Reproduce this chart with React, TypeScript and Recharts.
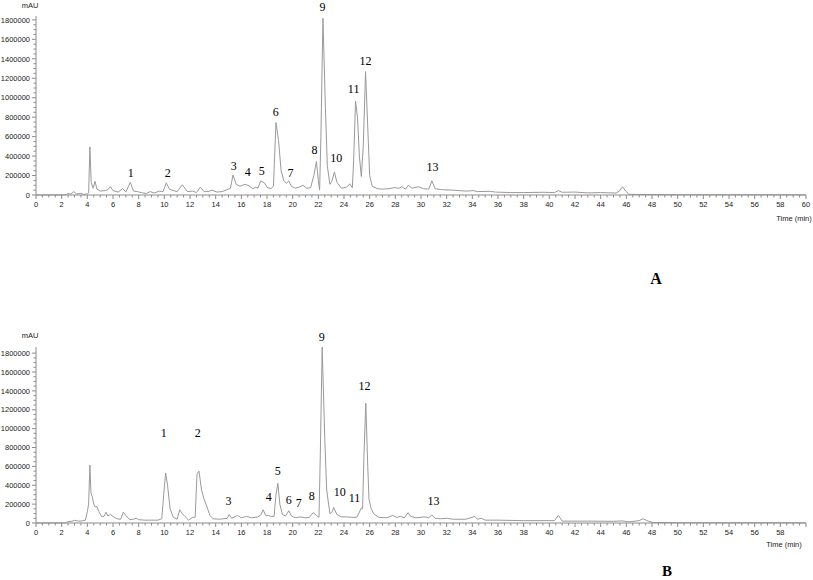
import React from "react";
import { LineChart, Line, XAxis, YAxis, ReferenceDot } from "recharts";

// chromatogram A (time in min, signal in mAU)
const timeA = [
  0, 2.3, 2.5, 2.7, 2.95, 3.15, 3.5, 3.7, 4.0, 4.1, 4.2, 4.3, 4.45, 4.6, 4.75,
  5.0, 5.4, 5.6, 5.8, 6.0, 6.4, 6.75, 7.0, 7.35, 7.6, 7.9, 8.2, 8.6, 8.9, 9.2,
  9.6, 9.9, 10.15, 10.4, 10.7, 11.0, 11.4, 11.8, 12.2, 12.5, 12.8, 13.1, 13.4,
  13.7, 14.1, 14.5, 14.9, 15.15, 15.35, 15.6, 15.9, 16.3, 16.6, 16.9, 17.1,
  17.3, 17.5, 17.8, 18.0, 18.3, 18.5, 18.7, 18.9, 19.1, 19.3, 19.5, 19.7, 19.9,
  20.2, 20.5, 20.8, 21.1, 21.4, 21.65, 21.85, 22.0, 22.1, 22.2, 22.36, 22.55,
  22.7, 22.9, 23.05, 23.25, 23.45, 23.8, 24.2, 24.45, 24.65, 24.75, 24.9,
  25.05, 25.2, 25.35, 25.5, 25.68, 25.85, 26.0, 26.2, 26.6, 27.0, 27.5, 27.9,
  28.3, 28.5, 28.8, 29.0, 29.3, 29.8, 30.2, 30.6, 30.85, 31.1, 31.6, 32.5,
  33.5, 34.1, 34.4, 35.4, 35.8, 37, 38, 39.5, 40.4, 40.7, 41.0, 42.0, 43, 44,
  45.2, 45.45, 45.7, 45.95, 46.2, 47, 50, 60,
];
const signalA = [
  0, 2000, 15000, 8000, 35000, 10000, 18000, 6000, 12000, 20000, 495000,
  130000, 70000, 140000, 60000, 40000, 45000, 55000, 85000, 45000, 30000,
  65000, 30000, 130000, 40000, 35000, 25000, 15000, 35000, 20000, 40000,
  35000, 125000, 60000, 45000, 35000, 105000, 35000, 40000, 25000, 80000,
  35000, 35000, 50000, 30000, 35000, 55000, 70000, 205000, 110000, 90000,
  110000, 95000, 65000, 80000, 70000, 145000, 125000, 80000, 65000, 90000,
  745000, 560000, 250000, 150000, 120000, 145000, 90000, 70000, 80000,
  100000, 70000, 75000, 200000, 345000, 150000, 50000, 600000, 1818000,
  900000, 300000, 110000, 140000, 235000, 130000, 70000, 80000, 115000,
  75000, 350000, 965000, 800000, 400000, 190000, 500000, 1268000, 700000,
  200000, 90000, 65000, 60000, 65000, 75000, 70000, 85000, 60000, 100000,
  70000, 85000, 65000, 60000, 145000, 65000, 55000, 50000, 40000, 45000,
  35000, 38000, 30000, 25000, 25000, 28000, 25000, 45000, 28000, 30000,
  22000, 25000, 20000, 40000, 85000, 40000, 8000, 5000, 3000, 2000,
];

// chromatogram B
const timeB = [
  0, 2.3, 2.5, 2.8, 3.0, 3.3, 3.6, 3.85, 4.0, 4.1, 4.2, 4.28, 4.38, 4.5, 4.6,
  4.75, 4.9, 5.1, 5.3, 5.45, 5.6, 5.8, 6.0, 6.3, 6.6, 6.8, 7.0, 7.3, 7.6, 7.8,
  8.0, 8.5, 9.0, 9.5, 9.8, 9.95, 10.1, 10.25, 10.45, 10.7, 11.0, 11.2, 11.4,
  11.6, 11.9, 12.2, 12.4, 12.55, 12.7, 12.9, 13.1, 13.3, 13.55, 13.8, 14.3,
  14.9, 15.05, 15.25, 15.7, 16.0, 16.4, 16.8, 17.3, 17.55, 17.7, 17.9, 18.1,
  18.3, 18.55, 18.7, 18.85, 19.0, 19.2, 19.45, 19.7, 19.9, 20.2, 20.6, 21.0,
  21.3, 21.6, 21.85, 22.05, 22.15, 22.3, 22.5, 22.65, 22.9, 23.05, 23.2,
  23.45, 23.8, 24.2, 24.6, 25.0, 25.25, 25.35, 25.45, 25.55, 25.7, 25.85,
  25.95, 26.1, 26.3, 26.7, 27.3, 27.8, 28.1, 28.4, 28.7, 29.0, 29.2, 29.6,
  30.3, 30.6, 30.85, 31.1, 31.5, 32.0, 32.5, 33.5, 34.2, 34.4, 34.7, 35, 36,
  38, 40.4, 40.7, 41.0, 42, 43, 45, 45.7, 46.2, 47.0, 47.3, 47.7, 48.1, 50, 60,
];
const signalB = [
  0, 2000, 15000, 18000, 28000, 20000, 22000, 30000, 120000, 200000, 615000,
  320000, 280000, 200000, 170000, 175000, 120000, 70000, 70000, 115000,
  75000, 90000, 70000, 45000, 40000, 115000, 80000, 35000, 40000, 50000,
  35000, 30000, 30000, 30000, 45000, 300000, 530000, 400000, 150000, 60000,
  40000, 140000, 100000, 70000, 30000, 60000, 60000, 520000, 550000, 350000,
  250000, 180000, 80000, 45000, 40000, 50000, 90000, 50000, 80000, 55000,
  70000, 55000, 65000, 90000, 140000, 80000, 80000, 70000, 70000, 300000,
  420000, 200000, 90000, 75000, 130000, 75000, 55000, 65000, 55000, 60000,
  110000, 80000, 60000, 700000, 1865000, 900000, 350000, 100000, 110000,
  165000, 90000, 65000, 65000, 60000, 60000, 130000, 160000, 150000, 700000,
  1270000, 600000, 250000, 160000, 100000, 60000, 55000, 80000, 60000, 70000,
  55000, 110000, 70000, 55000, 65000, 55000, 85000, 50000, 45000, 50000,
  40000, 40000, 70000, 40000, 50000, 30000, 30000, 25000, 25000, 80000,
  20000, 20000, 20000, 18000, 22000, 12000, 25000, 45000, 20000, 5000, 3000,
  2000,
];

// peak numbers: name, time of label, signal level of label
const peaksA: [string, number, number][] = [
  ["1", 7.39, 226000], ["2", 10.27, 226000], ["3", 15.4, 298000],
  ["4", 16.5, 237000], ["5", 17.59, 247000], ["6", 18.68, 854000],
  ["7", 19.84, 226000], ["8", 21.7, 463000], ["9", 22.33, 1934000],
  ["10", 23.4, 380000], ["11", 24.75, 1090000], ["12", 25.68, 1380000],
  ["13", 30.9, 290000],
];
const peaksB: [string, number, number][] = [
  ["1", 9.96, 953000], ["2", 12.6, 953000], ["3", 15.0, 233000],
  ["4", 18.13, 275000], ["5", 18.83, 551000], ["6", 19.69, 244000],
  ["7", 20.47, 212000], ["8", 21.48, 286000], ["9", 22.26, 1970000],
  ["10", 23.66, 328000], ["11", 24.82, 265000], ["12", 25.6, 1451000],
  ["13", 30.97, 233000],
];

const xTicks = Array.from({ length: 121 }, (_, i) => i * 0.5);
const yTicks = Array.from({ length: 37 }, (_, i) => i * 50000);

const GREY = "#8c8c8c";
const SANS = "'Liberation Sans', Arial, sans-serif";
const SERIF = "'Liberation Serif', 'Times New Roman', serif";

const XTick = (props: any) => {
  const { x, y, payload, lastLabel } = props;
  const v = payload.value;
  const major = Math.abs(v % 2) < 1e-6;
  return (
    <g>
      <line x1={x} x2={x} y1={y} y2={y + (major ? 4 : 2.5)} stroke={GREY} />
      {major && v <= lastLabel && (
        <text x={x} y={y + 12} textAnchor="middle" fontSize={7.5} fontFamily={SANS} fill="#222">
          {v}
        </text>
      )}
    </g>
  );
};

const YTick = (props: any) => {
  const { x, y, payload } = props;
  const v = payload.value;
  const major = v % 200000 === 0;
  return (
    <g>
      <line x1={x - (major ? 4 : 2.5)} x2={x} y1={y} y2={y} stroke={GREY} />
      {major && (
        <text x={x - 6} y={y + 2.7} textAnchor="end" fontSize={7.5} fontFamily={SANS} fill="#222">
          {v}
        </text>
      )}
    </g>
  );
};

const Chromatogram = ({ time, signal, peaks, yMax, top, axisHeight, lastLabel }: any) => {
  const data = time.map((t: number, i: number) => ({ t, v: signal[i] }));
  return (
    <LineChart width={813} height={240} data={data} margin={{ top, right: 7, left: 0, bottom: 0 }}>
      <XAxis
        dataKey="t"
        type="number"
        domain={[0, 60]}
        ticks={xTicks}
        interval={0}
        height={axisHeight}
        tickSize={0}
        tickMargin={0}
        tick={<XTick lastLabel={lastLabel} />}
        axisLine={{ stroke: GREY }}
      />
      <YAxis
        type="number"
        domain={[0, yMax]}
        ticks={yTicks}
        interval={0}
        width={36}
        tickSize={0}
        tickMargin={0}
        tick={<YTick />}
        axisLine={{ stroke: GREY }}
      />
      <Line
        type="linear"
        dataKey="v"
        stroke="#9a9a9a"
        strokeWidth={1}
        dot={false}
        activeDot={false}
        isAnimationActive={false}
      />
      {peaks.map(([name, t, v]: [string, number, number]) => (
        <ReferenceDot
          key={name}
          x={t}
          y={v}
          r={0}
          fill="none"
          stroke="none"
          ifOverflow="visible"
          label={{ value: name, position: "center", fill: "#000", fontSize: 12, fontFamily: SERIF }}
        />
      ))}
    </LineChart>
  );
};

export default function App() {
  return (
    <div style={{ position: "absolute", left: 0, top: 0, width: 813, height: 580, background: "#fff" }}>
      <div style={{ position: "absolute", left: 0, top: 0 }}>
        <Chromatogram time={timeA} signal={signalA} peaks={peaksA} yMax={1840000} top={16} axisHeight={45} lastLabel={60} />
      </div>
      <div style={{ position: "absolute", left: 0, top: 330 }}>
        <Chromatogram time={timeB} signal={signalB} peaks={peaksB} yMax={1860000} top={17} axisHeight={47} lastLabel={58} />
      </div>
      <svg width={813} height={580} style={{ position: "absolute", left: 0, top: 0, pointerEvents: "none" }}>
        <text x={30} y={8} textAnchor="middle" fontSize={7.5} fontFamily={SANS} fill="#222">mAU</text>
        <text x={30} y={338} textAnchor="middle" fontSize={7.5} fontFamily={SANS} fill="#222">mAU</text>
        <text x={794} y={221} textAnchor="middle" fontSize={7.5} fontFamily={SANS} fill="#222">Time (min)</text>
        <text x={784} y={547} textAnchor="middle" fontSize={7.5} fontFamily={SANS} fill="#222">Time (min)</text>
        <text x={656} y={284} textAnchor="middle" fontSize={16} fontWeight="bold" fontFamily={SERIF} fill="#000">A</text>
        <text x={667} y={576} textAnchor="middle" fontSize={15} fontWeight="bold" fontFamily={SERIF} fill="#000">B</text>
      </svg>
    </div>
  );
}
